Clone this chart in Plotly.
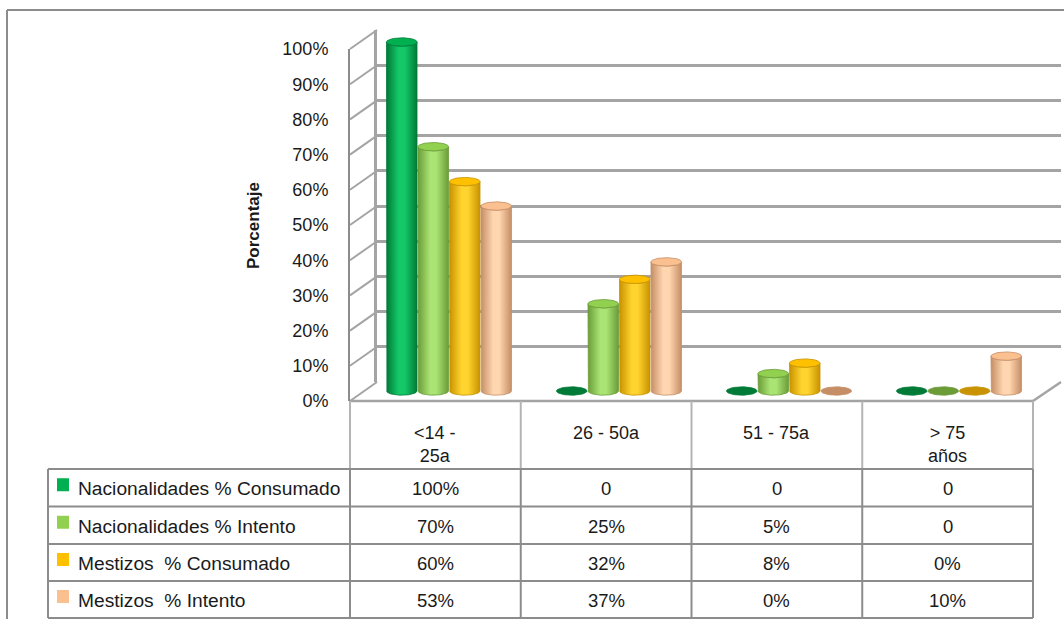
import numpy as np
import plotly.graph_objects as go

W, H = 1064, 619

# ---- data -------------------------------------------------------------
categorias = ["<14 -<br>25a", "26 - 50a", "51 - 75a", "> 75<br>años"]
series = ["Nacionalidades % Consumado", "Nacionalidades % Intento",
          "Mestizos \u00a0% Consumado", "Mestizos \u00a0% Intento"]
nac_consumado = ["100%", "0", "0", "0"]
nac_intento = ["70%", "25%", "5%", "0"]
mes_consumado = ["60%", "32%", "8%", "0%"]
mes_intento = ["53%", "37%", "0%", "10%"]
tabla = [nac_consumado, nac_intento, mes_consumado, mes_intento]
eje_y = list(range(0, 101, 10))

# ---- style ------------------------------------------------------------
colores = ["#00b050", "#92d050", "#ffc000", "#fac090"]
oscuros = ["#007a37", "#6b9c38", "#c89200", "#c58e66"]
claros = ["#14c868", "#aae474", "#ffd42e", "#ffd6b0"]
GRIS = "#8c8c8c"
GRID = "#a4a4a4"
TEXTO = "#1a1a1a"
FONT = "Liberation Sans"


def valor(txt):
    return float(txt.rstrip("%"))


def fx(p):
    return p / W


def fy(p):
    return 1 - p / H


# geometry of the 3-D box (pixels)
BACK_L, BACK_R, BACK_B, BACK_T = 377, 1061, 382, 30
DX, DY = 27, 19
FRONT_L, FRONT_R = BACK_L - DX, 1033
FRONT_B, FRONT_T = BACK_B + DY, BACK_T + DY
K = (BACK_B - BACK_T) / 100.0
BAR_B, BAR_T = 391, 42
BAR_L, BAR_R = 364, 1044
KB = (BAR_B - BAR_T) / 100.0
Y2_RANGE = [-5, 105]

# data table grid (pixels)
COLS = list(np.linspace(FRONT_L, FRONT_R, len(categorias) + 1))
ROWS = [469, 506.5, 544, 581, 618]
LEG_L = 48

fig = go.Figure()

# back wall subplot (gridlines only)
fig.add_trace(go.Scatter(x=[0.5], y=[50], mode="markers", marker_opacity=0,
                         hoverinfo="skip", showlegend=False,
                         xaxis="x", yaxis="y"))
# front value axis subplot
fig.add_trace(go.Scatter(x=[0.5], y=[50], mode="markers", marker_opacity=0,
                         hoverinfo="skip", showlegend=False,
                         xaxis="x3", yaxis="y3"))

# ---- cylinders ----------------------------------------------------------
BW = 31.5 / ((BAR_R - BAR_L) / 4.0)
rx = BW / 2 * 0.97
ry = 4.2 / KB
t = np.linspace(0, np.pi, 40)
tt = np.linspace(0, 2 * np.pi, 80)

for s, etiquetas in enumerate(tabla):
    for i, txt in enumerate(etiquetas):
        v = valor(txt)
        cx = i + (s - 1.5) * BW
        if v > 0:
            xs = np.concatenate([[cx - rx], cx - rx * np.cos(t), [cx + rx],
                                 cx + rx * np.cos(t)])
            ys = np.concatenate([[v], -ry * np.sin(t), [v],
                                 v - ry * np.sin(t)])
            fig.add_trace(go.Scatter(
                x=xs, y=ys, mode="lines", fill="toself",
                line=dict(color=oscuros[s], width=0.8),
                fillgradient=dict(type="horizontal",
                                  colorscale=[[0, oscuros[s]], [0.4, claros[s]],
                                              [0.6, claros[s]], [1, oscuros[s]]]),
                hoverinfo="skip", showlegend=False, xaxis="x2", yaxis="y2"))
            cap = colores[s]
        else:
            cap = oscuros[s]
        fig.add_trace(go.Scatter(
            x=cx + rx * np.cos(tt), y=v + ry * np.sin(tt), mode="lines",
            fill="toself", fillcolor=cap,
            line=dict(color=oscuros[s], width=0.8),
            hoverinfo="skip", showlegend=False, xaxis="x2", yaxis="y2"))

# ---- shapes: 3-D frame, floor, table ------------------------------------
shapes = []


def linea(x0, y0, x1, y1, color=GRIS, width=2):
    shapes.append(dict(type="line", xref="paper", yref="paper",
                       x0=fx(x0), y0=fy(y0), x1=fx(x1), y1=fy(y1),
                       line=dict(color=color, width=width), layer="below"))


for v in eje_y:
    linea(FRONT_L, FRONT_B - v * K, BACK_L, BACK_B - v * K, GRID, 2)

# floor
linea(FRONT_L, FRONT_B, FRONT_R, FRONT_B, GRID, 2.5)
linea(FRONT_R, FRONT_B, BACK_R, BACK_B, GRID, 2.5)

# category header cells
for c in COLS:
    linea(c, FRONT_B, c, ROWS[0], "#b4b4b4", 2)

# value table
for r in ROWS:
    linea(LEG_L, r, COLS[-1], r)
for c in [LEG_L] + COLS:
    linea(c, ROWS[0], c, ROWS[-1])

# legend keys
for s in range(len(series)):
    yc = (ROWS[s] + ROWS[s + 1]) / 2 - 3
    shapes.append(dict(type="rect", xref="paper", yref="paper",
                       x0=fx(57), x1=fx(69), y0=fy(yc - 6.5), y1=fy(yc + 6.5),
                       fillcolor=colores[s], line=dict(width=0)))

# outer frame
linea(7, 10, W, 10, GRIS, 2)
linea(7, 10, 7, H, GRIS, 2)

# ---- annotations ---------------------------------------------------------
ann = []
centros = [(COLS[i] + COLS[i + 1]) / 2 for i in range(len(categorias))]
for i, cat in enumerate(categorias):
    ann.append(dict(x=fx(centros[i]), y=fy(421), xref="paper", yref="paper",
                    text=cat, showarrow=False, xanchor="center", yanchor="top",
                    font=dict(size=18, color=TEXTO, family=FONT)))

for s, etiquetas in enumerate(tabla):
    yc = (ROWS[s] + ROWS[s + 1]) / 2 + 1
    ann.append(dict(x=fx(76), y=fy(yc), xref="paper", yref="paper",
                    text=series[s], showarrow=False, xanchor="left",
                    yanchor="middle",
                    font=dict(size=19.2, color=TEXTO, family=FONT)))
    for i, txt in enumerate(etiquetas):
        ann.append(dict(x=fx(centros[i]), y=fy(yc), xref="paper", yref="paper",
                        text=txt, showarrow=False, xanchor="center",
                        yanchor="middle",
                        font=dict(size=18.5, color=TEXTO, family=FONT)))

ann.append(dict(x=fx(253), y=fy(226), xref="paper", yref="paper",
                text="<b>Porcentaje</b>", showarrow=False, textangle=-90,
                xanchor="center", yanchor="middle",
                font=dict(size=17, color=TEXTO, family=FONT)))


def bar_px(v):
    return BAR_B - v * KB


fig.update_layout(
    template="none",
    autosize=False,
    width=W, height=H,
    margin=dict(l=0, r=0, t=0, b=0, pad=0, autoexpand=False),
    paper_bgcolor="white", plot_bgcolor="rgba(0,0,0,0)",
    showlegend=False,
    shapes=shapes, annotations=ann,
    xaxis=dict(domain=[fx(BACK_L), fx(BACK_R)], range=[0, 1], visible=False,
               anchor="y", automargin=False),
    yaxis=dict(domain=[fy(BACK_B), fy(BACK_T)], range=[0, 100],
               tickvals=eje_y, showgrid=True, gridcolor=GRID, gridwidth=2.5,
               showline=True, linecolor=GRID, linewidth=2.5,
               showticklabels=False, ticks="", zeroline=False, anchor="x",
               automargin=False),
    xaxis2=dict(domain=[fx(BAR_L), fx(BAR_R)], range=[-0.5, 3.5],
                visible=False, anchor="y2", automargin=False),
    yaxis2=dict(domain=[fy(bar_px(Y2_RANGE[0])), fy(bar_px(Y2_RANGE[1]))],
                range=Y2_RANGE, visible=False, anchor="x2", automargin=False),
    xaxis3=dict(domain=[fx(FRONT_L), fx(FRONT_R)], range=[0, 1],
                visible=False, anchor="y3", automargin=False),
    yaxis3=dict(domain=[fy(FRONT_B), fy(FRONT_T)], range=[0, 100],
                tickvals=eje_y, ticktext=[f"{v}%" for v in eje_y],
                showgrid=False, zeroline=False, showline=True,
                linecolor=GRIS, linewidth=2, ticks="", ticklabelstandoff=16,
                tickfont=dict(size=18, color=TEXTO, family=FONT),
                anchor="x3", automargin=False),
)

fig.write_html("out.html")
